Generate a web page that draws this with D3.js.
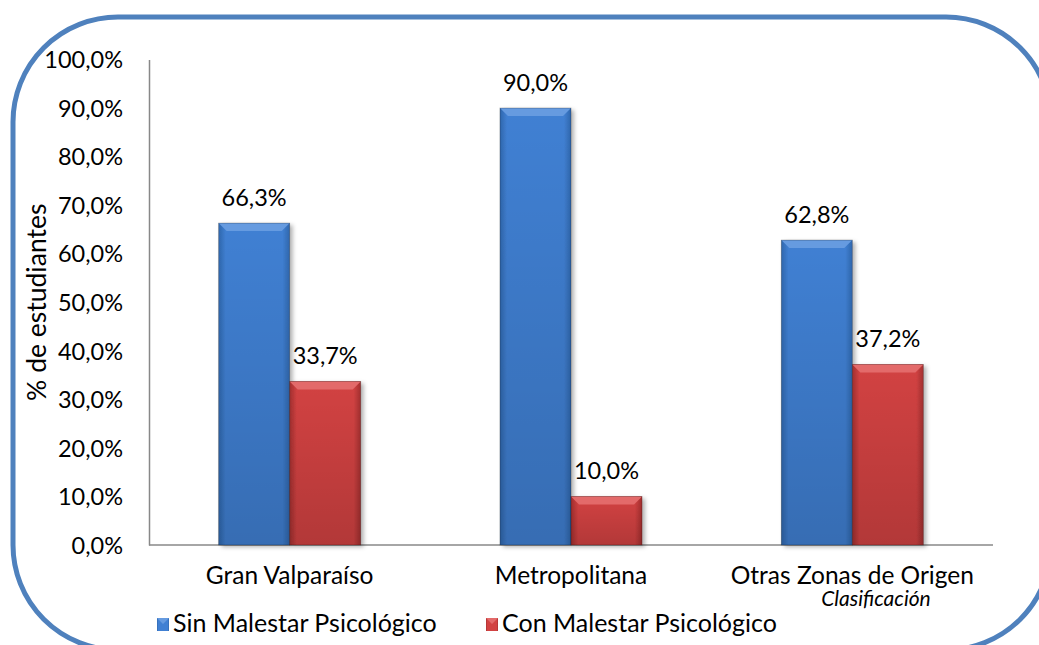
<!DOCTYPE html>
<html>
<head>
<meta charset="utf-8">
<script src="https://d3js.org/d3.v7.min.js"></script>
<style>
  body { margin: 0; background: #fff; }
  svg { display: block; }
  svg text { font-family: Lato, "Open Sans", sans-serif; fill: #000; }
</style>
</head>
<body>
<script>
// chart data
var categories = ["Gran Valparaíso", "Metropolitana", "Otras Zonas de Origen"];
var seriesNames = ["Sin Malestar Psicológico", "Con Malestar Psicológico"];
var sinMalestar = [66.3, 90.0, 62.8];
var conMalestar = [33.7, 10.0, 37.2];
var yTicks = [0, 10, 20, 30, 40, 50, 60, 70, 80, 90, 100];

var W = 1039, H = 645;
var plot = {left: 149, right: 993, top: 59.5, bottom: 545};

var svg = d3.select("body").append("svg").attr("width", W).attr("height", H);
var defs = svg.append("defs");

function gradient(id, dark, mid) {
  var g = defs.append("linearGradient").attr("id", id)
    .attr("x1", "0").attr("x2", "1").attr("y1", "0").attr("y2", "0");
  g.append("stop").attr("offset", "0%").attr("stop-color", dark);
  g.append("stop").attr("offset", "10%").attr("stop-color", mid);
  g.append("stop").attr("offset", "90%").attr("stop-color", mid);
  g.append("stop").attr("offset", "100%").attr("stop-color", dark);
  var v = defs.append("linearGradient").attr("id", id + "v")
    .attr("x1", "0").attr("x2", "0").attr("y1", "0").attr("y2", "1");
  v.append("stop").attr("offset", "0%").attr("stop-color", "#000").attr("stop-opacity", 0);
  v.append("stop").attr("offset", "100%").attr("stop-color", "#000").attr("stop-opacity", 0.15);
}
gradient("gBlue", "#2f67ad", "#4080d3");
gradient("gRed", "#a32f2f", "#d24242");
var colors = {base: ["url(#gBlue)", "url(#gRed)"], over: ["url(#gBluev)", "url(#gRedv)"],
  top: ["#669be0", "#e36a6a"]};

var sh = defs.append("filter").attr("id", "shadow").attr("x", "-10%").attr("y", "-10%")
  .attr("width", "130%").attr("height", "130%");
sh.append("feDropShadow").attr("dx", 3).attr("dy", 2).attr("stdDeviation", 2)
  .attr("flood-color", "#000").attr("flood-opacity", 0.3);

// frame
svg.append("rect").attr("x", 13).attr("y", 17).attr("width", 1038).attr("height", 633)
  .attr("rx", 105).attr("ry", 105)
  .attr("fill", "none").attr("stroke", "#4f81bd").attr("stroke-width", 5);

var x0 = d3.scaleBand().domain(categories).range([plot.left, plot.right]).paddingInner(0.495).paddingOuter(0.2475);
var x1 = d3.scaleBand().domain([0, 1]).range([0, x0.bandwidth()]);
var y = d3.scaleLinear().domain([0, 100]).range([plot.bottom, plot.top]);

function pct(v) { return v.toFixed(1).replace(".", ",") + "%"; }

// y axis
var yAxis = svg.append("g").attr("transform", "translate(" + plot.left + ",0)")
  .call(d3.axisLeft(y).tickValues(yTicks).tickSize(0).tickPadding(26).tickFormat(pct));
yAxis.attr("font-family", null).attr("font-size", null);
yAxis.select(".domain").attr("stroke", "#888").attr("stroke-width", 1.5);
yAxis.selectAll("text").attr("font-size", 23.5).attr("dy", "0.35em");

// x axis
var xAxis = svg.append("g").attr("transform", "translate(0," + plot.bottom + ")")
  .call(d3.axisBottom(x0).tickSize(0).tickPadding(22).tickSizeOuter(0));
xAxis.attr("font-family", null).attr("font-size", null);
xAxis.select(".domain").attr("stroke", "#888").attr("stroke-width", 1.5)
  .attr("d", "M" + plot.left + ",0H" + plot.right);
xAxis.selectAll("text").attr("font-size", 24.5);

// bars
var rows = categories.map(function(c, i) { return {cat: c, vals: [sinMalestar[i], conMalestar[i]]}; });
var groups = svg.selectAll(".grp").data(rows).enter().append("g")
  .attr("transform", function(d) { return "translate(" + x0(d.cat) + ",0)"; });

groups.each(function(d) {
  var g = d3.select(this);
  d.vals.forEach(function(v, s) {
    var bx = x1(s), bw = x1.bandwidth(), by = y(v), bh = plot.bottom - y(v);
    var b = g.append("g");
    b.append("rect").attr("x", bx).attr("y", by).attr("width", bw).attr("height", bh)
      .attr("fill", colors.base[s]).attr("filter", "url(#shadow)");
    b.append("rect").attr("x", bx).attr("y", by).attr("width", bw).attr("height", bh)
      .attr("fill", colors.over[s]);
    var bev = Math.min(8, bh);
    b.append("path")
      .attr("d", "M" + bx + "," + by + "H" + (bx + bw) + "L" + (bx + bw - bev) + "," + (by + bev) +
        "H" + (bx + bev) + "Z")
      .attr("fill", colors.top[s]);
    b.append("rect").attr("x", bx).attr("y", by).attr("width", bw).attr("height", bh)
      .attr("fill", "none").attr("stroke", "rgba(0,0,0,0.3)").attr("stroke-width", 0.8);
    g.append("text").attr("x", bx + bw / 2).attr("y", by - 17)
      .attr("text-anchor", "middle").attr("font-size", 23.5)
      .text(pct(v));
  });
});

// axis titles
svg.append("text").attr("transform", "translate(46," + ((plot.top + plot.bottom) / 2) + ") rotate(-90)")
  .attr("text-anchor", "middle").attr("font-size", 26.5).text("% de estudiantes");
svg.append("text").attr("x", 876).attr("y", 606).attr("text-anchor", "middle")
  .attr("font-size", 21).attr("font-style", "italic").text("Clasificación");

// legend
var legX = [157, 486];
seriesNames.forEach(function(name, s) {
  svg.append("rect").attr("x", legX[s]).attr("y", 618).attr("width", 12).attr("height", 13)
    .attr("fill", colors.base[s]);
  svg.append("path").attr("d", "M" + legX[s] + ",618h12l-6,6z").attr("fill", colors.top[s]);
  svg.append("text").attr("x", legX[s] + 16).attr("y", 632).attr("font-size", 25).text(name);
});
</script>
</body>
</html>
